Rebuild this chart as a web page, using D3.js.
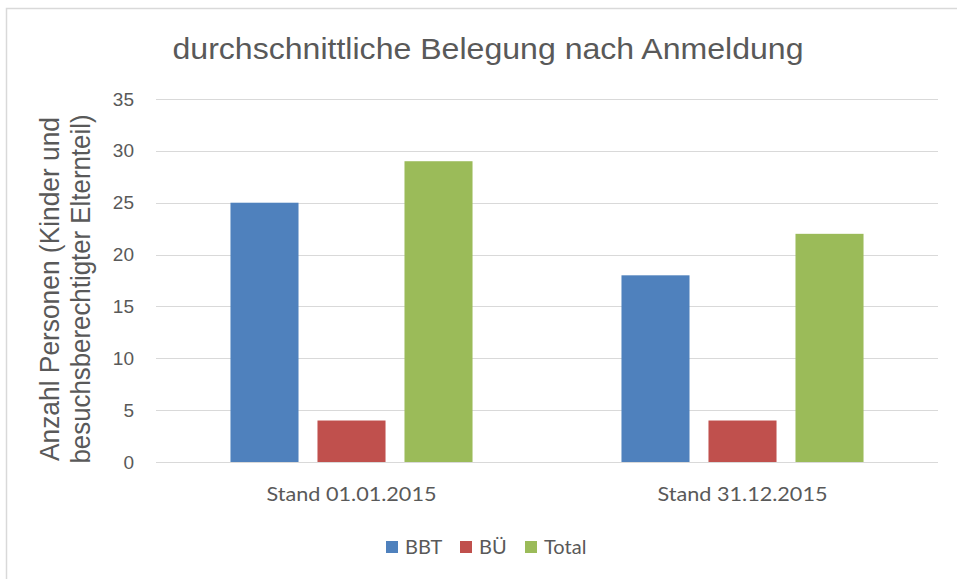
<!DOCTYPE html>
<html>
<head>
<meta charset="utf-8">
<script src="https://cdn.jsdelivr.net/npm/d3@7"></script>
<style>
  body { margin: 0; background: #fff; }
  svg text { fill: #595959; }
</style>
</head>
<body>
<div id="chart"></div>
<script>
// chart data
const categories = ["Stand 01.01.2015", "Stand 31.12.2015"];
const seriesNames = ["BBT", "BÜ", "Total"];
const bbt = [25, 18];
const bue = [4, 4];
const total = [29, 22];
const yTicks = [0, 5, 10, 15, 20, 25, 30, 35];
const colors = ["#4f81bd", "#c0504d", "#9bbb59"];

const width = 957, height = 579;
const margin = {top: 99, right: 19, bottom: 117, left: 156};

const svg = d3.select("#chart")
  .append("svg")
  .attr("width", width)
  .attr("height", height);

// outer frame (only left/top visible in the picture)
svg.append("rect")
  .attr("x", 6.5).attr("y", 8.5)
  .attr("width", 960).attr("height", 600)
  .attr("fill", "none")
  .attr("stroke", "#d9d9d9")
  .attr("stroke-width", 1.5);

const plotW = width - margin.left - margin.right;
const plotH = height - margin.top - margin.bottom;

const g = svg.append("g").attr("transform", `translate(${margin.left},${margin.top})`);

const y = d3.scaleLinear().domain([0, 35]).range([plotH, 0]);
const x0 = d3.scaleBand().domain(categories).range([0, plotW]);
const x1 = d3.scaleBand().domain(seriesNames).range([0, x0.bandwidth()])
  .paddingInner(0.218).paddingOuter(0.856);
const color = d3.scaleOrdinal().domain(seriesNames).range(colors);

// gridlines
g.append("g")
  .selectAll("line")
  .data(yTicks)
  .enter().append("line")
  .attr("x1", 0).attr("x2", plotW)
  .attr("y1", d => Math.round(y(d)) + 0.5)
  .attr("y2", d => Math.round(y(d)) + 0.5)
  .attr("stroke", "#d9d9d9")
  .attr("stroke-width", 1);

// y tick labels
const yAxis = g.append("g")
  .call(d3.axisLeft(y).tickValues(yTicks).tickSize(0).tickPadding(22));
yAxis.select(".domain").remove();
yAxis.selectAll("text")
  .attr("font-family", "'Liberation Sans', Arial, sans-serif")
  .attr("font-size", 19)
  .style("fill", "#595959");

// bars
const table = categories.map((c, i) => ({cat: c, values: [bbt[i], bue[i], total[i]]}));

const group = g.selectAll(".group")
  .data(table)
  .enter().append("g")
  .attr("transform", d => `translate(${x0(d.cat)},0)`);

group.selectAll("rect")
  .data(d => seriesNames.map((s, j) => ({key: s, value: d.values[j]})))
  .enter().append("rect")
  .attr("x", d => x1(d.key))
  .attr("y", d => y(d.value))
  .attr("width", x1.bandwidth())
  .attr("height", d => plotH - y(d.value))
  .attr("fill", d => color(d.key));

// x axis labels
const xAxis = g.append("g")
  .attr("transform", `translate(0,${plotH})`)
  .call(d3.axisBottom(x0).tickSize(0));
xAxis.select(".domain").remove();
xAxis.selectAll("text")
  .attr("y", 39)
  .attr("dy", 0)
  .attr("font-family", "Lato, 'Open Sans', sans-serif")
  .attr("font-size", 20)
  .attr("textLength", 170)
  .attr("lengthAdjust", "spacingAndGlyphs")
  .style("fill", "#595959");

// title
svg.append("text")
  .attr("x", 488)
  .attr("y", 59)
  .attr("text-anchor", "middle")
  .attr("font-family", "'Liberation Sans', Arial, sans-serif")
  .attr("font-size", 30)
  .attr("textLength", 631)
  .attr("lengthAdjust", "spacingAndGlyphs")
  .text("durchschnittliche Belegung nach Anmeldung");

// y axis title, two lines
const yTitle = svg.append("text")
  .attr("transform", "translate(59,289) rotate(-90)")
  .attr("text-anchor", "middle")
  .attr("font-family", "'Liberation Sans', Arial, sans-serif")
  .attr("font-size", 27);
yTitle.append("tspan").attr("x", 0).attr("y", 0)
  .attr("textLength", 344).attr("lengthAdjust", "spacingAndGlyphs")
  .text("Anzahl Personen (Kinder und");
yTitle.append("tspan").attr("x", 0).attr("y", 31)
  .attr("textLength", 349).attr("lengthAdjust", "spacingAndGlyphs")
  .text("besuchsberechtigter Elternteil)");

// legend
const legendX = [386, 460, 525];
const legend = svg.append("g").attr("transform", "translate(0,541)");
const item = legend.selectAll("g")
  .data(seriesNames)
  .enter().append("g")
  .attr("transform", (d, i) => `translate(${legendX[i]},0)`);
item.append("rect")
  .attr("width", 12).attr("height", 12)
  .attr("fill", d => color(d));
item.append("text")
  .attr("x", 19).attr("y", 13)
  .attr("font-family", "Lato, 'Open Sans', sans-serif")
  .attr("font-size", 20)
  .text(d => d);
</script>
</body>
</html>
